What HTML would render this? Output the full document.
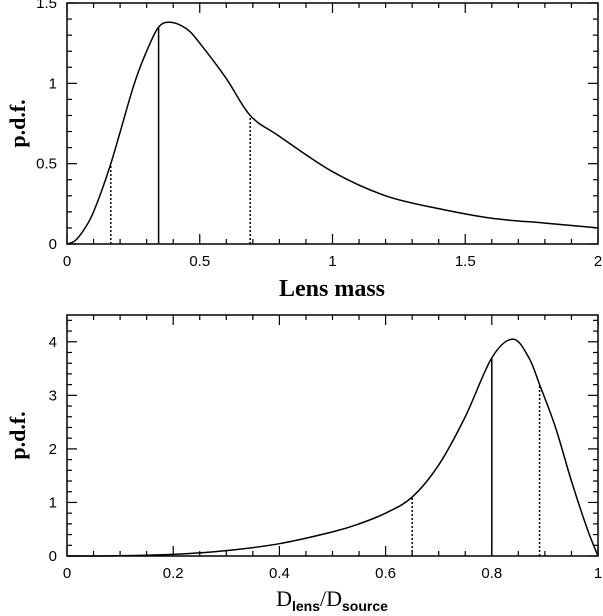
<!DOCTYPE html>
<html><head><meta charset="utf-8"><style>
body{margin:0;background:#fff;}
svg{display:block;font-family:"Liberation Sans",sans-serif;}
</style></head><body>
<svg id="c" width="603" height="616" viewBox="0 0 603 616"></svg>
<script>
const massX=[0,0.03,0.06,0.1,0.165,0.25,0.3,0.345,0.39,0.45,0.5,0.6,0.69,0.8,1.0,1.2,1.4,1.6,1.8,2.0];
const massY=[0,0.02,0.08,0.2,0.5,0.98,1.2,1.35,1.38,1.34,1.25,1.03,0.80,0.67,0.45,0.30,0.22,0.16,0.13,0.10];
const massLines=[0.165,0.345,0.69];
const distX=[0,0.1,0.2,0.3,0.4,0.5,0.55,0.6,0.65,0.7,0.75,0.8,0.84,0.87,0.89,0.92,0.95,0.98,1.0];
const distY=[0,0.005,0.03,0.1,0.23,0.45,0.6,0.8,1.1,1.7,2.6,3.7,4.05,3.7,3.2,2.4,1.4,0.5,0];
const distLines=[0.65,0.8,0.89];
const topXTicks=["0","0.5","1","1.5","2"];
const topYTicks=["0","0.5","1","1.5"];
const botXTicks=["0","0.2","0.4","0.6","0.8","1"];
const botYTicks=["0","1","2","3","4"];
const NS="http://www.w3.org/2000/svg";
const svg=document.getElementById('c');
function el(t,a,p){const e=document.createElementNS(NS,t);for(const k in a)e.setAttribute(k,a[k]);(p||svg).appendChild(e);return e;}
function interp(xs,ys,x){for(let i=0;i<xs.length-1;i++){if(x>=xs[i]&&x<=xs[i+1]){const t=(x-xs[i])/(xs[i+1]-xs[i]);return ys[i]+t*(ys[i+1]-ys[i]);}}return ys[ys.length-1];}
function smooth(pts){let d="M"+pts[0][0]+","+pts[0][1];for(let i=0;i<pts.length-1;i++){const p0=pts[Math.max(0,i-1)],p1=pts[i],p2=pts[i+1],p3=pts[Math.min(pts.length-1,i+2)];const c1=[p1[0]+(p2[0]-p0[0])/6,p1[1]+(p2[1]-p0[1])/6],c2=[p2[0]-(p3[0]-p1[0])/6,p2[1]-(p3[1]-p1[1])/6];d+=" C"+c1+" "+c2+" "+p2;}return d;}
function panel(o){
 const sx=v=>o.x0+(v-o.xmin)/(o.xmax-o.xmin)*(o.x1-o.x0);
 const sy=v=>o.y0-(v-o.ymin)/(o.ymax-o.ymin)*(o.y0-o.y1);
 const g=el('g',{});
 
 
 const f=el('rect',{x:o.x0,y:o.y1,width:o.x1-o.x0,height:o.y0-o.y1,fill:'none',stroke:'#000','stroke-width':1.5},g);
 
 for(let v=o.xmin,i=0;v<=o.xmax+1e-9;i++,v=o.xmin+i*o.xminor){const maj=Math.abs(v/o.xmajor-Math.round(v/o.xmajor))<1e-6;const L=maj?10:5;const x=sx(v);
  el('line',{x1:x,x2:x,y1:o.y0,y2:o.y0-L,stroke:'#000','stroke-width':1.2},g);el('line',{x1:x,x2:x,y1:o.y1,y2:o.y1+L,stroke:'#000','stroke-width':1.2},g);}
 for(let v=o.ymin,i=0;v<=o.ymax+1e-9;i++,v=o.ymin+i*o.yminor){const maj=Math.abs(v/o.ymajor-Math.round(v/o.ymajor))<1e-6;const L=maj?10:5;const y=sy(v);
  el('line',{x1:o.x0,x2:o.x0+L,y1:y,y2:y,stroke:'#000','stroke-width':1.2},g);el('line',{x1:o.x1,x2:o.x1-L,y1:y,y2:y,stroke:'#000','stroke-width':1.2},g);}
 o.xt.forEach(s=>{const t=el('text',{x:sx(+s),y:o.y0+22,'text-anchor':'middle','font-size':15},g);t.textContent=s;});
 o.yt.forEach(s=>{const t=el('text',{x:o.x0-10,y:sy(+s)+5,'text-anchor':'end','font-size':15},g);t.textContent=s;});
 const pts=o.xs.map((x,i)=>[sx(x),sy(o.ys[i])]);
 const p=el('path',{d:smooth(pts),fill:'none',stroke:'#000','stroke-width':1.5},g);
 
 o.lines.forEach((v,i)=>{const l=el('line',{x1:sx(v),x2:sx(v),y1:o.y0,y2:sy(interp(o.xs,o.ys,v)),stroke:'#000','stroke-width':1.5,'stroke-dasharray':i==1?'none':'2,2'},g);
  });
 const yl=el('text',{transform:`translate(${o.x0-42},${(o.y0+o.y1)/2}) rotate(-90)`,'text-anchor':'middle','font-size':22,'font-weight':'bold','font-family':'Liberation Serif,serif'},g);
 yl.textContent='p.d.f.';
}
panel({name:'lens-mass-panel',x0:67,x1:598,y0:244,y1:3,xmin:0,xmax:2,ymin:0,ymax:1.5,xminor:0.1,xmajor:0.5,yminor:0.1,ymajor:0.5,xt:topXTicks,yt:topYTicks,xs:massX,ys:massY,lines:massLines});
panel({name:'distance-ratio-panel',x0:67,x1:598,y0:556,y1:315,xmin:0,xmax:1,ymin:0,ymax:4.5,xminor:0.05,xmajor:0.2,yminor:0.2,ymajor:1,xt:botXTicks,yt:botYTicks,xs:distX,ys:distY,lines:distLines});
</script>
<svg style="position:absolute;left:0;top:0" width="603" height="616">
<text x="332" y="296" text-anchor="middle" font-size="24" font-weight="bold" font-family="Liberation Serif,serif">Lens mass</text>
<text x="332" y="606" text-anchor="middle" font-size="22" font-family="Liberation Serif,serif">D<tspan font-size="14" font-weight="bold" font-family="Liberation Sans,sans-serif" dy="5">lens</tspan><tspan dy="-5">/D</tspan><tspan font-size="14" font-weight="bold" font-family="Liberation Sans,sans-serif" dy="5">source</tspan></text>
</svg>
</body></html>
